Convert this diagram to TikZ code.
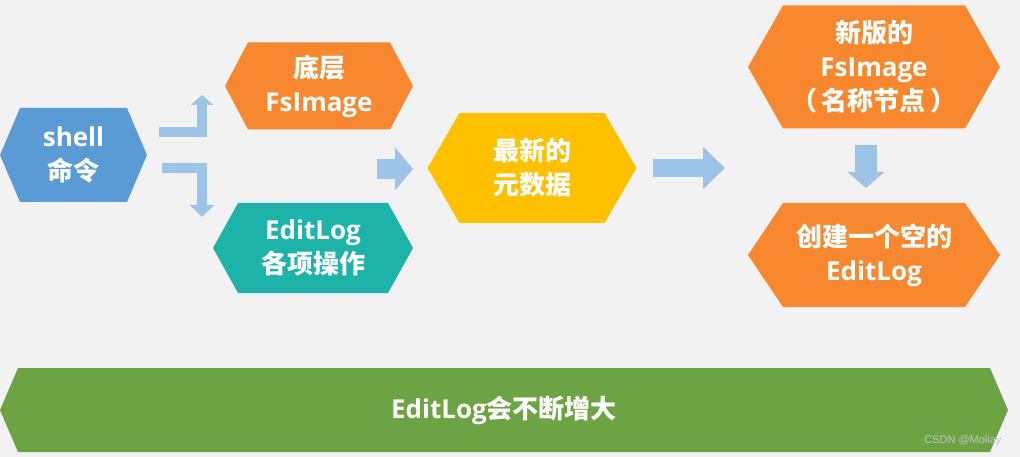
\documentclass[tikz,border=0pt]{standalone}
\usepackage{fontspec}
\setmainfont{Noto Sans CJK SC}
\newfontfamily\ensans{Open Sans}
\newfontfamily\marksans{Liberation Sans}
\usetikzlibrary{arrows.meta}
\definecolor{bggray}{HTML}{F2F2F2}
\definecolor{cblue}{HTML}{5B9BD5}
\definecolor{corange}{HTML}{F7882F}
\definecolor{cteal}{HTML}{1DB3A9}
\definecolor{cyellow}{HTML}{FFC000}
\definecolor{cgreen}{HTML}{6CA444}
\definecolor{arrowblue}{HTML}{9DC3E6}
\definecolor{markgray}{HTML}{C4C4C4}
\newcommand\en[1]{{\ensans #1}}

\begin{document}
\begin{tikzpicture}[x=1pt, y=-1pt,
    hexa/.style n args={4}{minimum width=#1, minimum height=#2, inner sep=0pt,
      align=center, text=white, font=\bfseries\fontsize{26}{34}\selectfont,
      path picture={\fill[#3] ([xshift=#4]path picture bounding box.north west)
        -- ([xshift=-#4]path picture bounding box.north east) -- (path picture bounding box.east)
        -- ([xshift=-#4]path picture bounding box.south east) -- ([xshift=#4]path picture bounding box.south west)
        -- (path picture bounding box.west) -- cycle;}},
    blockarrow/.style n args={3}{draw=arrowblue, line width=#1, line join=miter,
      -{Triangle[length=#2, width=#3]}}]
      \useasboundingbox (0,0) rectangle (1020,457);
      \fill[bggray] (0,0) rectangle (1020,457);

      \node[hexa={147}{94}{cblue}{20pt}] (shell) at (73.5,155) {\en{shell}\\命令};
      \node[hexa={188}{87}{corange}{23pt}] (oldfs) at (319,86) {底层\\\en{FsImage}};
      \node[hexa={200}{90}{cteal}{25pt}] (oplog) at (313,248) {\en{EditLog}\\各项操作};
      \node[hexa={209}{110}{cyellow}{32pt}] (meta) at (532,168) {最新的\\元数据};
      \node[hexa={252}{123}{corange}{35pt}] (newfs) at (874,67) {新版的\\\en{FsImage}\\（\,名称节点\,）};
      \node[hexa={252}{104}{corange}{35pt}] (newlog) at (874,255) {创建一个空的\\\en{EditLog}};
      \node[hexa={1008}{84}{cgreen}{18pt}] (grow) at (504,410) {\en{EditLog}会不断增大};
      \node[anchor=east, text=markgray, font=\marksans\fontsize{11}{13}\selectfont] (mark) at (1005,441) {CSDN @Moliay};

      \coordinate (up0) at (159,132);
      \coordinate (up1) at (202,132);
      \coordinate (up2) at (202,95);
      \draw[blockarrow={10pt}{10pt}{22pt}] (up0) -- (up1) -- (up2);
      \coordinate (dn0) at (162,168);
      \coordinate (dn1) at (202,168);
      \coordinate (dn2) at (202,217);
      \draw[blockarrow={10pt}{12pt}{24pt}] (dn0) -- (dn1) -- (dn2);

      \coordinate (r0) at (377,169);
      \coordinate (r1) at (413,169);
      \draw[blockarrow={20pt}{18pt}{42pt}] (r0) -- (r1);
      \coordinate (s0) at (653,168);
      \coordinate (s1) at (725,168);
      \draw[blockarrow={18pt}{22pt}{41pt}] (s0) -- (s1);
      \coordinate (t0) at (866,145);
      \coordinate (t1) at (866,188);
      \draw[blockarrow={22pt}{16pt}{36pt}] (t0) -- (t1);
    \end{tikzpicture}
\end{document}
